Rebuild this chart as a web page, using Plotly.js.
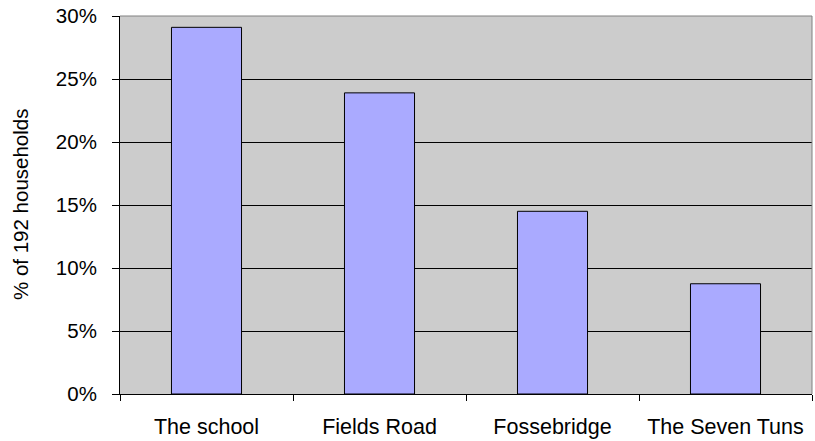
<!DOCTYPE html>
<html>
<head>
<meta charset="utf-8">
<script src="https://cdn.plot.ly/plotly-3.0.1.min.js"></script>
<style>html,body{margin:0;padding:0;background:#fff;}#chart{width:815px;height:441px;}</style>
</head>
<body>
<div id="chart"></div>
<script>
const categories = ["The school", "Fields Road", "Fossebridge", "The Seven Tuns"];
const percentages = [29.1, 23.9, 14.5, 8.75];
const yTickValues = [0, 5, 10, 15, 20, 25, 30];
const yTickLabels = ["0%", "5%", "10%", "15%", "20%", "25%", "30%"];
const yTitle = "% of 192 households";

const fam = "Liberation Sans, Arial, sans-serif";
const xFont = {family: fam, size: 21.5, color: "#000"};
const yFont = {family: fam, size: 20.5, color: "#000"};
const titleFont = {family: fam, size: 20.5, color: "#000"};

const trace = {
  type: "bar",
  x: categories,
  y: percentages,
  marker: {color: "#AAAAFF", line: {color: "#000000", width: 1}},
  hoverinfo: "skip"
};

const layout = {
  width: 815, height: 441,
  margin: {l: 120, r: 3, t: 16, b: 47, pad: 0},
  paper_bgcolor: "#ffffff",
  plot_bgcolor: "#CCCCCC",
  bargap: 0.595,
  showlegend: false,
  font: yFont,
  xaxis: {
    type: "category",
    tickson: "boundaries",
    ticks: "outside", ticklen: 6, tickcolor: "#000", tickwidth: 1,
    showline: true, linecolor: "#000", linewidth: 1,
    showgrid: false, zeroline: false,
    tickfont: xFont,
    ticklabelstandoff: 13,
    fixedrange: true
  },
  yaxis: {
    range: [0, 30],
    tickvals: yTickValues, ticktext: yTickLabels,
    ticks: "outside", ticklen: 7, tickcolor: "#000", tickwidth: 1,
    showline: true, linecolor: "#000", linewidth: 1,
    showgrid: true, gridcolor: "#000", gridwidth: 1,
    zeroline: false,
    tickfont: yFont,
    ticklabelstandoff: 11,
    fixedrange: true
  },
  shapes: [
    {type: "line", xref: "paper", yref: "paper", x0: 0, x1: 1, y0: 1, y1: 1, line: {color: "#808080", width: 1}},
    {type: "line", xref: "paper", yref: "paper", x0: 1, x1: 1, y0: 0, y1: 1, line: {color: "#808080", width: 1}}
  ],
  annotations: [{
    text: yTitle, textangle: -90,
    xref: "paper", yref: "paper", x: 0, y: 0.5,
    xanchor: "center", yanchor: "middle", xshift: -100,
    showarrow: false, font: titleFont
  }]
};

Plotly.newPlot("chart", [trace], layout, {displayModeBar: false, staticPlot: true});
</script>
</body>
</html>
